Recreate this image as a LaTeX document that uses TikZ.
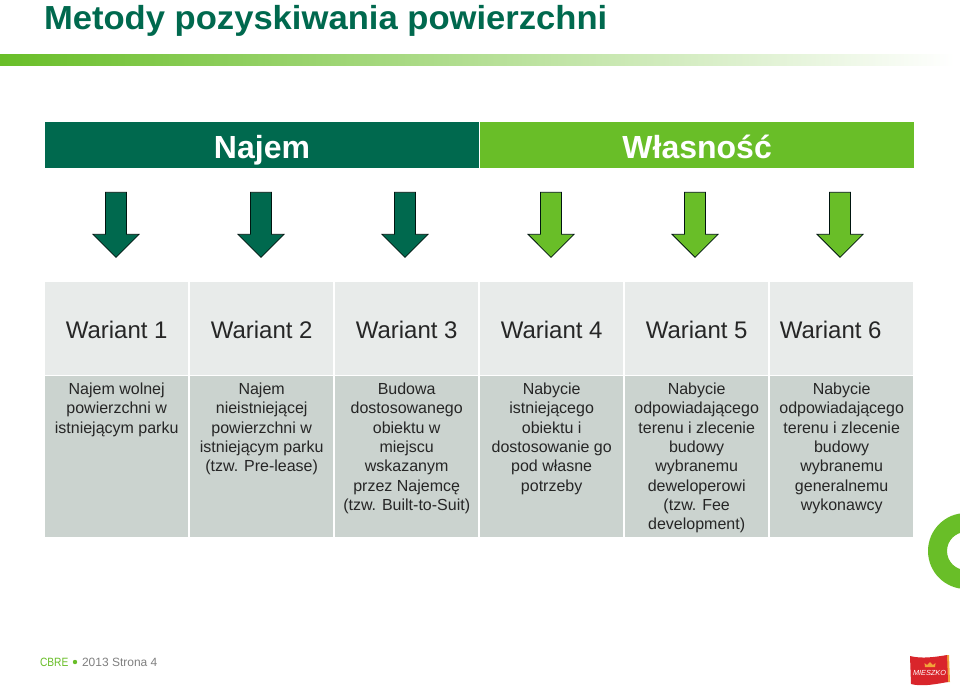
\documentclass[tikz,border=0pt]{standalone}
\usepackage{fontspec}
\setmainfont{Liberation Sans}
\usepackage{xcolor}
\usetikzlibrary{arrows.meta, positioning, calc, shapes.arrows}
\definecolor{cbredark}{HTML}{00694E}
\definecolor{cbregreen}{HTML}{69BE28}
\definecolor{headgray}{HTML}{E8EBEA}
\definecolor{bodygray}{HTML}{CBD3CF}
\definecolor{textgray}{HTML}{262626}
\definecolor{footgray}{HTML}{808080}
\definecolor{logored}{HTML}{D9252B}
\definecolor{logogold}{HTML}{F2A33A}
\newcommand{\celltext}[1]{\parbox[c][120.7pt][t]{107.5pt}{\vspace*{5pt}\centering\fontsize{12}{14.5}\selectfont #1}}

\begin{document}
\begin{tikzpicture}[
  x=0.75pt, y=-0.75pt, outer sep=0pt,
  band/.style={minimum height=34.5pt, inner sep=0pt, text=white, text height=20pt, text depth=0pt,
               font=\fontsize{24}{28}\selectfont\bfseries},
  downarr/.style={draw=black!80!cbredark, line width=0.6pt, single arrow,
                  shape border rotate=270, inner sep=0pt, minimum height=48.8pt,
                  minimum width=34.5pt, single arrow head extend=8.6pt,
                  single arrow tip angle=90, text width=14pt},
  headcell/.style={fill=headgray, minimum width=107.5pt, minimum height=69.5pt,
                   inner sep=0pt, text=textgray, text height=14.5pt, text depth=0pt,
                   font=\fontsize{18}{22}\selectfont},
  bodycell/.style={fill=bodygray, minimum width=107.5pt, minimum height=120.7pt,
                   inner sep=0pt, text=textgray}
]
  \clip (0,0) rectangle (960,687);
  \fill[white] (0,0) rectangle (960,687);

  \node[anchor=base west, inner sep=0pt, text=cbredark, xscale=1.038, font=\fontsize{25}{30}\selectfont\bfseries] (title)
    at (44,29) {Metody pozyskiwania powierzchni};
  \shade[left color=cbregreen, right color=white] (0,54) rectangle (955,65);

  % top bands
  \node[band, fill=cbredark, minimum width=325.5pt, anchor=north west] (najem) at (45,122) {Najem};
  \node[band, fill=cbregreen, minimum width=325pt, right=1.1pt of najem] (wlasnosc) {Własność};

  % arrows
  \node[downarr, fill=cbredark] (arr1) at (116,219.5) {};
  \node[downarr, fill=cbredark] (arr2) at (261,219.5) {};
  \node[downarr, fill=cbredark] (arr3) at (405,219.5) {};
  \node[downarr, fill=cbregreen] (arr4) at (551,219.5) {};
  \node[downarr, fill=cbregreen] (arr5) at (695,219.5) {};
  \node[downarr, fill=cbregreen] (arr6) at (840,219.5) {};

  % header row
  \node[headcell, anchor=north west] (w1) at (45,282) {Wariant 1};
  \node[headcell, right=1.25pt of w1] (w2) {Wariant 2};
  \node[headcell, right=1.25pt of w2] (w3) {Wariant 3};
  \node[headcell, right=1.25pt of w3] (w4) {Wariant 4};
  \node[headcell, right=1.25pt of w4] (w5) {Wariant 5};
  \node[headcell, right=1.25pt of w5] (w6) {Wariant 6\kern16.5pt};

  % body row
  \node[bodycell, below=1.1pt of w1] (c1) {\celltext{Najem wolnej\\powierzchni w\\istniejącym parku}};
  \node[bodycell, below=1.1pt of w2] (c2) {\celltext{Najem\\nieistniejącej\\powierzchni w\\istniejącym parku\\(tzw. Pre-lease)}};
  \node[bodycell, below=1.1pt of w3] (c3) {\celltext{Budowa\\dostosowanego\\obiektu w\\miejscu\\wskazanym\\przez Najemcę\\(tzw. Built-to-Suit)}};
  \node[bodycell, below=1.1pt of w4] (c4) {\celltext{Nabycie\\istniejącego\\obiektu i\\dostosowanie go\\pod własne\\potrzeby}};
  \node[bodycell, below=1.1pt of w5] (c5) {\celltext{Nabycie\\odpowiadającego\\terenu i zlecenie\\budowy\\wybranemu\\deweloperowi\\(tzw. Fee\\development)}};
  \node[bodycell, below=1.1pt of w6] (c6) {\celltext{Nabycie\\odpowiadającego\\terenu i zlecenie\\budowy\\wybranemu\\generalnemu\\wykonawcy}};

  % ring, footer, logo
  \fill[cbregreen, even odd rule] (966,551) circle (38) (966,551) circle (19);
  \node[anchor=west, inner sep=0pt, text=cbregreen, xscale=0.85, font=\fontsize{9}{11}\selectfont] (cbre) at (40,662) {CBRE};
  \fill[cbregreen] (75,662) circle (2.2);
  \node[anchor=west, inner sep=0pt, text=footgray, font=\fontsize{9}{11}\selectfont] (foot) at (82,662) {2013 Strona 4};
  \fill[logogold] (946,655) -- (949,655) -- (950,682) -- (947,682) -- cycle;
  \fill[logored] (910,656) .. controls (922,659) and (935,657) .. (947,655) -- (948,682)
    .. controls (936,684) and (922,687) .. (911,684) -- cycle;
  \fill[logogold] (925,667) -- (924.5,663) -- (927,665) -- (930,662) -- (933,665) -- (935.5,663) -- (935,667) -- cycle;
  \node[inner sep=0pt, text=white, font=\fontsize{5.5}{6}\selectfont\itshape] (logo) at (929.5,673) {MIESZKO};
\end{tikzpicture}
\end{document}
